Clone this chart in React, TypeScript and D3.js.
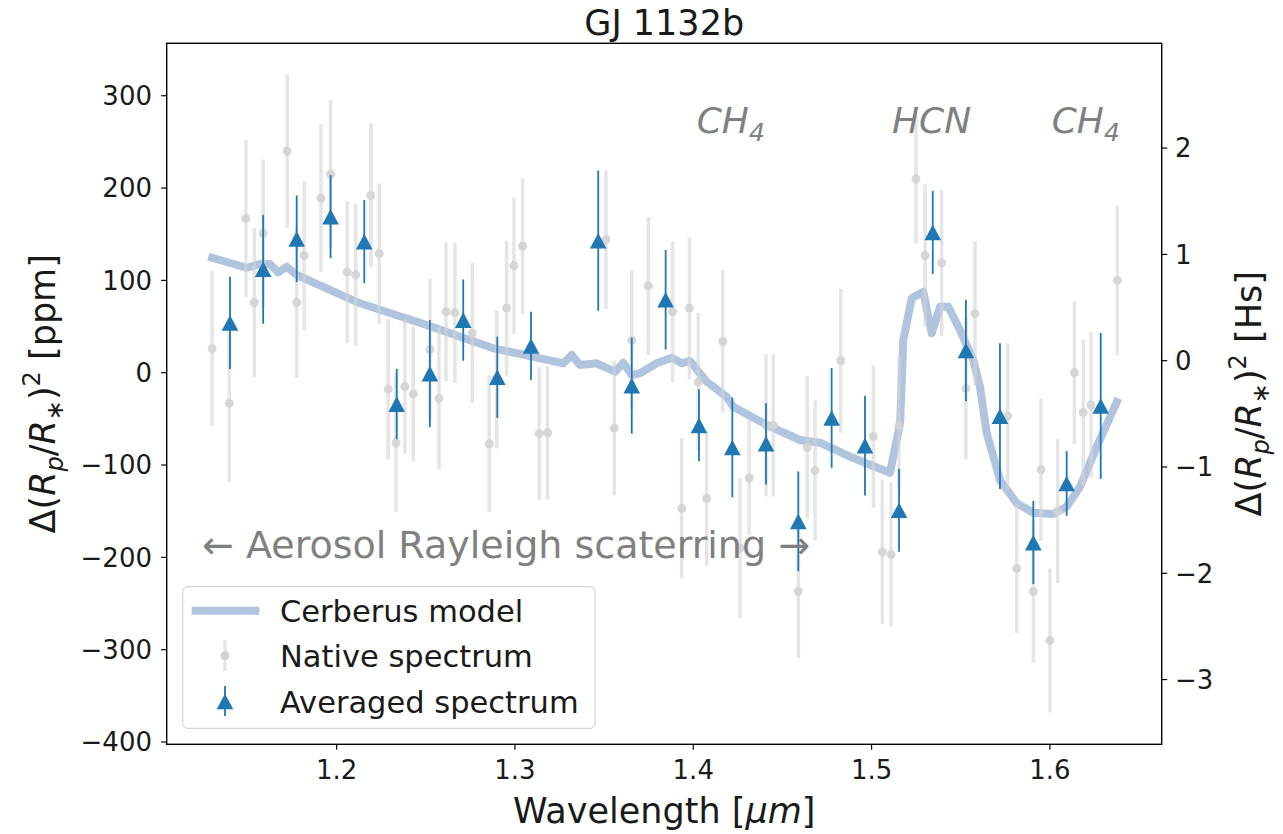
import React from 'react';
import * as d3 from 'd3';

// Cerberus model (wavelength in um, ppm)
const modelWl = [1.128, 1.1495, 1.157, 1.1626, 1.1672, 1.172, 1.1776, 1.1944, 1.2131, 1.2505, 1.2878, 1.2972,
  1.3271, 1.3318, 1.3365, 1.3458, 1.3561, 1.3607, 1.3655, 1.3701, 1.3795, 1.3879, 1.3935, 1.3982, 1.4075,
  1.4187, 1.4224, 1.4412, 1.4598, 1.4711, 1.4879, 1.5103, 1.516, 1.5178, 1.5225, 1.529, 1.5337, 1.5384,
  1.543, 1.5496, 1.557, 1.5608, 1.5646, 1.572, 1.5814, 1.5907, 1.6019, 1.6094, 1.6169, 1.6263, 1.6384];
const modelPpm = [125.6, 113.7, 117.7, 117.7, 108.7, 114.8, 105.8, 91.4, 75.2, 51.7, 26.4, 22.7,
  10.2, 19.2, 8.3, 10.2, 1.1, 10.8, -2.5, -0.6, 10.2, 16.2, 10.2, 12.7, -9.7,
  -26, -36.8, -56.6, -72.9, -75.8, -91, -108.3, -54.8, 35.4, 80.6, 87.7, 42.7, 71.5,
  71.5, 46.2, 13.8, -15.2, -65.6, -116.2, -141.4, -151.6, -153, -145.1, -123.5, -80.1, -27.7];

// native spectrum
const nativeWl = [1.1302, 1.1398, 1.1491, 1.1538, 1.1588, 1.1723, 1.1776, 1.1818, 1.1912, 1.1966, 1.2059,
  1.2107, 1.2192, 1.2239, 1.2289, 1.2333, 1.2383, 1.243, 1.2523, 1.2574, 1.2613, 1.2663, 1.2761, 1.2856,
  1.2897, 1.2953, 1.2994, 1.3043, 1.3136, 1.3183, 1.351, 1.3557, 1.3655, 1.3748, 1.3884, 1.3935, 1.3978,
  1.4028, 1.4075, 1.4165, 1.4262, 1.4314, 1.4408, 1.4449, 1.4589, 1.4639, 1.4683, 1.4827, 1.501, 1.506,
  1.5109, 1.5154, 1.5249, 1.53, 1.5393, 1.5529, 1.558, 1.5763, 1.5814, 1.5907, 1.595, 1.6, 1.6044,
  1.6137, 1.6187, 1.6231, 1.6378];
const nativePpm = [26, -33, 167, 76, 151, 240, 76, 127, 189, 215, 109,
  106, 192, 129, -18, -76, -15, -23, 25, -28, 66, 65, 43, -77,
  -7, 70, 116, 137, -66, -65, 144, -60, 35, 94, 66, -147, 70,
  -10, -136, 34, -190, -114, -57, -57, -237, -81, -106, 13, -69, -194,
  -197, -57, 210, 127, 119, -17, 64, -47, -212, -237, -105, -290, -150,
  0, -43, -35, 100];
const nativeErr = [84, 85, 85, 81, 80, 83, 82, 81, 80, 80, 77,
  77, 78, 76, 76, 75, 73, 73, 77, 77, 75, 76, 76, 74,
  75, 73, 74, 73, 72, 72, 75, 73, 76, 75, 76, 76, 77,
  75, 73, 77, 76, 62, 77, 77, 72, 77, 76, 78, 77, 78,
  78, 76, 70, 77, 79, 77, 78, 79, 70, 77, 77, 78, 78,
  77, 79, 79, 81];

// averaged spectrum
const avgWl = [1.1402, 1.1588, 1.1776, 1.1966, 1.2155, 1.2337, 1.2523, 1.271, 1.2901, 1.309, 1.3467, 1.3655,
  1.3845, 1.4032, 1.4219, 1.4408, 1.4589, 1.4776, 1.4963, 1.5154, 1.5343, 1.5529, 1.572, 1.5907, 1.6094, 1.6285];
const avgPpm = [54, 112, 145, 169, 142, -34, -1, 57, -5, 29, 143, -14,
  79, -57, -81, -77, -161, -49, -79, -149, 152, 24, -47, -184, -120, -36];
const avgErr = [50, 59, 47, 45, 45, 38, 58, 44, 44, 37, 76, 52,
  54, 39, 54, 44, 54, 54, 54, 45, 45, 55, 79, 45, 35, 79];

const xTicks = [1.2, 1.3, 1.4, 1.5, 1.6];
const yTicks = [300, 200, 100, 0, -100, -200, -300, -400];
const hsTicks = [2, 1, 0, -1, -2, -3];

const W = 1283;
const H = 834;
const m = { left: 166.7, right: 1161.7, top: 43.3, bottom: 744.3 };
const FONT = 'DejaVu Sans';
const BLUE = '#1f77b4';
const MODEL = '#b0c4de';
const GREY = '#808080';
const INK = '#1a1a1a';

const fmt = (v: number) => (v < 0 ? '\u2212' + Math.abs(v) : String(v));

const x = d3.scaleLinear().domain([1.1047, 1.6627]).range([m.left, m.right]);
const y = d3.scaleLinear().domain([-402.5, 356.8]).range([m.bottom, m.top]);
const yHs = d3.scaleLinear().domain([-3.609, 2.986]).range([m.bottom, m.top]);

const tri = (cx: number, cy: number) =>
  `M${cx},${cy - 7.8}L${cx - 8.3},${cy + 7.8}L${cx + 8.3},${cy + 7.8}Z`;

const RatioLabel = ({ unit }: { unit: string }) => (
  <>
    <tspan>Δ(</tspan>
    <tspan fontStyle="italic">R</tspan>
    <tspan fontStyle="italic" fontSize={24} dy={8}>p</tspan>
    <tspan dy={-8}>/</tspan>
    <tspan fontStyle="italic">R</tspan>
    <tspan fontSize={24} dy={8}>∗</tspan>
    <tspan dy={-8}>)</tspan>
    <tspan fontSize={24} dy={-15}>2</tspan>
    <tspan dy={15}>{' [' + unit + ']'}</tspan>
  </>
);

const Species = ({ px, name, sub }: { px: number; name: string; sub?: string }) => (
  <text x={px} y={133.3} fontSize={36} fontStyle="italic" fill={GREY} fontFamily={FONT}>
    {name}
    {sub && <tspan fontSize={25} dy={8}>{sub}</tspan>}
  </text>
);

const App = () => {
  const line = d3.line<number>()
    .x((d, i) => x(modelWl[i]))
    .y(d => y(d));

  return (
    <svg width={W} height={H} style={{ position: 'absolute', left: 0, top: 0, background: '#fff' }}
      fontFamily={FONT}>
      {/* model */}
      <path d={line(modelPpm) || ''} fill="none" stroke={MODEL} strokeWidth={8} strokeLinejoin="round" />

      {/* native spectrum */}
      <g>
        {nativeWl.map((w, i) => (
          <line key={'nb' + i} x1={x(w)} x2={x(w)} y1={y(nativePpm[i] + nativeErr[i])}
            y2={y(nativePpm[i] - nativeErr[i])} stroke="#d3d3d3" strokeOpacity={0.6} strokeWidth={3.5} />
        ))}
        {nativeWl.map((w, i) => (
          <circle key={'nd' + i} cx={x(w)} cy={y(nativePpm[i])} r={4.5} fill="#d3d3d3" fillOpacity={0.9} />
        ))}
      </g>

      {/* averaged spectrum */}
      <g>
        {avgWl.map((w, i) => (
          <g key={'a' + i}>
            <line x1={x(w)} x2={x(w)} y1={y(avgPpm[i] + avgErr[i])} y2={y(avgPpm[i] - avgErr[i])}
              stroke={BLUE} strokeWidth={1.8} />
            <path d={tri(x(w), y(avgPpm[i]))} fill={BLUE} />
          </g>
        ))}
      </g>

      {/* frame */}
      <rect x={m.left} y={m.top} width={m.right - m.left} height={m.bottom - m.top}
        fill="none" stroke="#000" strokeWidth={1.4} />

      {/* x axis */}
      {xTicks.map(t => (
        <g key={'xt' + t}>
          <line x1={x(t)} x2={x(t)} y1={m.bottom} y2={m.bottom + 5.5} stroke="#000" strokeWidth={1.2} />
          <text x={x(t)} y={778.5} textAnchor="middle" fontSize={26} fill={INK}>{t.toFixed(1)}</text>
        </g>
      ))}
      <text x={(m.left + m.right) / 2} y={823} textAnchor="middle" fontSize={35} fill={INK}>
        Wavelength [<tspan fontStyle="italic">μm</tspan>]
      </text>

      {/* left axis */}
      {yTicks.map(t => (
        <g key={'yt' + t}>
          <line x1={m.left - 5.5} x2={m.left} y1={y(t)} y2={y(t)} stroke="#000" strokeWidth={1.2} />
          <text x={152} y={y(t)} dy="0.36em" textAnchor="end" fontSize={26} fill={INK}>{fmt(t)}</text>
        </g>
      ))}
      <text transform={`translate(55,${(m.top + m.bottom) / 2}) rotate(-90)`} textAnchor="middle"
        fontSize={35} fill={INK}>
        <RatioLabel unit="ppm" />
      </text>

      {/* right axis */}
      {hsTicks.map(t => (
        <g key={'ht' + t}>
          <line x1={m.right} x2={m.right + 5.5} y1={yHs(t)} y2={yHs(t)} stroke="#000" strokeWidth={1.2} />
          <text x={1175} y={yHs(t)} dy="0.36em" textAnchor="start" fontSize={26} fill={INK}>{fmt(t)}</text>
        </g>
      ))}
      <text transform={`translate(1261,${(m.top + m.bottom) / 2}) rotate(-90)`} textAnchor="middle"
        fontSize={35} fill={INK}>
        <RatioLabel unit="Hs" />
      </text>

      {/* title */}
      <text x={(m.left + m.right) / 2} y={35} textAnchor="middle" fontSize={35} fill={INK}>GJ 1132b</text>

      {/* annotations */}
      <Species px={696.7} name="CH" sub="4" />
      <Species px={892} name="HCN" />
      <Species px={1051.7} name="CH" sub="4" />
      <text x={202} y={558.3} fontSize={38} fill={GREY}>← Aerosol Rayleigh scaterring →</text>

      {/* legend */}
      <g>
        <rect x={182.7} y={586.7} width={412.3} height={141.6} rx={5} fill="#fff" fillOpacity={0.8}
          stroke="#d6d6d6" strokeWidth={1.2} />
        <line x1={191.7} x2={259.3} y1={610.7} y2={610.7} stroke={MODEL} strokeWidth={8} />
        <text x={280} y={621.5} fontSize={30.5} fill={INK}>Cerberus model</text>
        <line x1={225} x2={225} y1={640} y2={671} stroke="#d3d3d3" strokeOpacity={0.6} strokeWidth={3.5} />
        <circle cx={225} cy={655.7} r={4.5} fill="#d3d3d3" />
        <text x={280} y={667} fontSize={30.5} fill={INK}>Native spectrum</text>
        <line x1={225} x2={225} y1={686} y2={716} stroke={BLUE} strokeWidth={1.8} />
        <path d={tri(225, 701.5)} fill={BLUE} />
        <text x={280} y={713} fontSize={30.5} fill={INK}>Averaged spectrum</text>
      </g>
    </svg>
  );
};

export default App;
